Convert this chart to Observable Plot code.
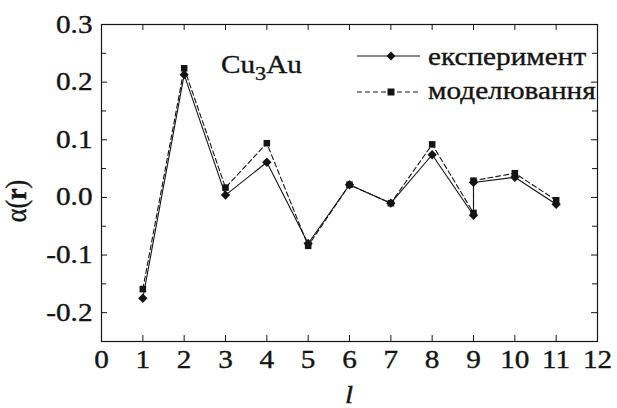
<!DOCTYPE html>
<html><head><meta charset="utf-8">
<script src="https://cdn.jsdelivr.net/npm/d3@7"></script>
<script src="https://cdn.jsdelivr.net/npm/@observablehq/plot@0.6"></script>
<style>
body{margin:0;background:#fff;}
#wrap{position:relative;width:617px;height:408px;}
#wrap svg, #wrap svg text{font-family:"Times New Roman","Liberation Serif",serif !important;}
#wrap svg text{stroke:#141414;stroke-width:0.35px;}
#wrap svg.over{position:absolute;left:0;top:0;pointer-events:none;}
</style></head><body><div id="wrap"></div>
<script>
// data
const shells = [1, 2, 3, 4, 5, 6, 7, 8, 9, 9, 10, 11];
const experiment = [-0.175, 0.213, 0.004, 0.061, -0.080, 0.022, -0.010, 0.074, -0.031, 0.026, 0.035, -0.012];
const modelling  = [-0.159, 0.224, 0.017, 0.094, -0.084, 0.022, -0.010, 0.092, -0.027, 0.029, 0.042, -0.005];
const seriesNames = ["експеримент", "моделювання"];
const xTicks = [0, 1, 2, 3, 4, 5, 6, 7, 8, 9, 10, 11, 12];
const yMajor = [-0.2, -0.1, 0.0, 0.1, 0.2, 0.3];
const yMinor = [-0.25, -0.15, -0.05, 0.05, 0.15, 0.25];

const W = 617, H = 408;
const mL = 101, mR = 20, mT = 24, mB = 67;
const pw = W - mL - mR, ph = H - mT - mB;
const ink = "#141414";
const S = 1.17; // horizontal stretch of the reference lettering

const expData = shells.map((x, i) => ({x, y: experiment[i]}));
const modData = shells.map((x, i) => ({x, y: modelling[i]}));

const chart = Plot.plot({
  width: W, height: H,
  marginLeft: mL, marginRight: mR, marginTop: mT, marginBottom: mB,
  style: {fontFamily: "Times New Roman, serif", fontSize: "25px", color: ink, background: "#fff"},
  x: {domain: [0, 12]},
  y: {domain: [-0.25, 0.3]},
  marks: [
    Plot.frame({stroke: ink, strokeWidth: 1.2}),
    Plot.tickX(xTicks, {x: d => d, insetTop: ph - 6, stroke: ink}),
    Plot.tickX(xTicks, {x: d => d, insetBottom: ph - 6, stroke: ink}),
    Plot.tickY(yMajor, {y: d => d, insetRight: pw - 6, stroke: ink}),
    Plot.tickY(yMajor, {y: d => d, insetLeft: pw - 6, stroke: ink}),
    Plot.tickY(yMinor, {y: d => d, insetRight: pw - 5, stroke: ink}),
    Plot.tickY(yMinor, {y: d => d, insetLeft: pw - 5, stroke: ink}),
    Plot.axisX({ticks: xTicks, tickSize: 0, tickPadding: 9, label: null, tickFormat: d => String(d)}),
    Plot.axisY({ticks: yMajor, tickSize: 0, tickPadding: 9, label: null, tickFormat: d => d.toFixed(1)}),
    Plot.line(modData, {x: "x", y: "y", stroke: ink, strokeWidth: 1.1, strokeDasharray: "5,3"}),
    Plot.dot(modData, {x: "x", y: "y", symbol: "square", r: 3.7, fill: ink, stroke: "none"}),
    Plot.line(expData, {x: "x", y: "y", stroke: ink, strokeWidth: 1.1}),
    Plot.dot(expData, {x: "x", y: "y", symbol: "diamond2", r: 4.2, fill: ink, stroke: "none"})
  ]
});
const wrap = document.getElementById("wrap");
wrap.appendChild(chart);

function stretch(root) {
  root.querySelectorAll("text.sx, g[aria-label$='tick label'] text").forEach(t => {
    const x = +(t.getAttribute("x") || 0);
    const tr = t.getAttribute("transform") || "";
    t.setAttribute("transform", `${tr} translate(${x},0) scale(${S},1) translate(${-x},0)`);
  });
}

const ns = "http://www.w3.org/2000/svg";
const ov = document.createElementNS(ns, "svg");
ov.setAttribute("class", "over");
ov.setAttribute("width", W); ov.setAttribute("height", H);
ov.innerHTML = `
  <g fill="${ink}" font-size="25">
    <text transform="translate(26,201) rotate(-90) scale(1,${S})" text-anchor="middle" font-size="26">α(<tspan font-weight="bold">r</tspan>)</text>
    <text class="sx" x="${mL + pw / 2}" y="403" text-anchor="middle" font-style="italic">l</text>
    <text class="sx" x="221" y="73">Cu<tspan font-size="19" dy="7">3</tspan><tspan dy="-7">Au</tspan></text>
    <g stroke="${ink}" stroke-width="1.1">
      <line x1="357" x2="420" y1="56" y2="56"/>
      <line x1="357" x2="420" y1="92" y2="92" stroke-dasharray="5,3"/>
    </g>
    <path d="M391,51.5 L395.5,56 L391,60.5 L386.5,56 Z"/>
    <rect x="387.5" y="88.5" width="7" height="7"/>
    <text class="sx" x="428" y="65">${seriesNames[0]}</text>
    <text class="sx" x="428" y="99">${seriesNames[1]}</text>
  </g>`;
wrap.appendChild(ov);
stretch(chart);
stretch(ov);
</script>
</body></html>
